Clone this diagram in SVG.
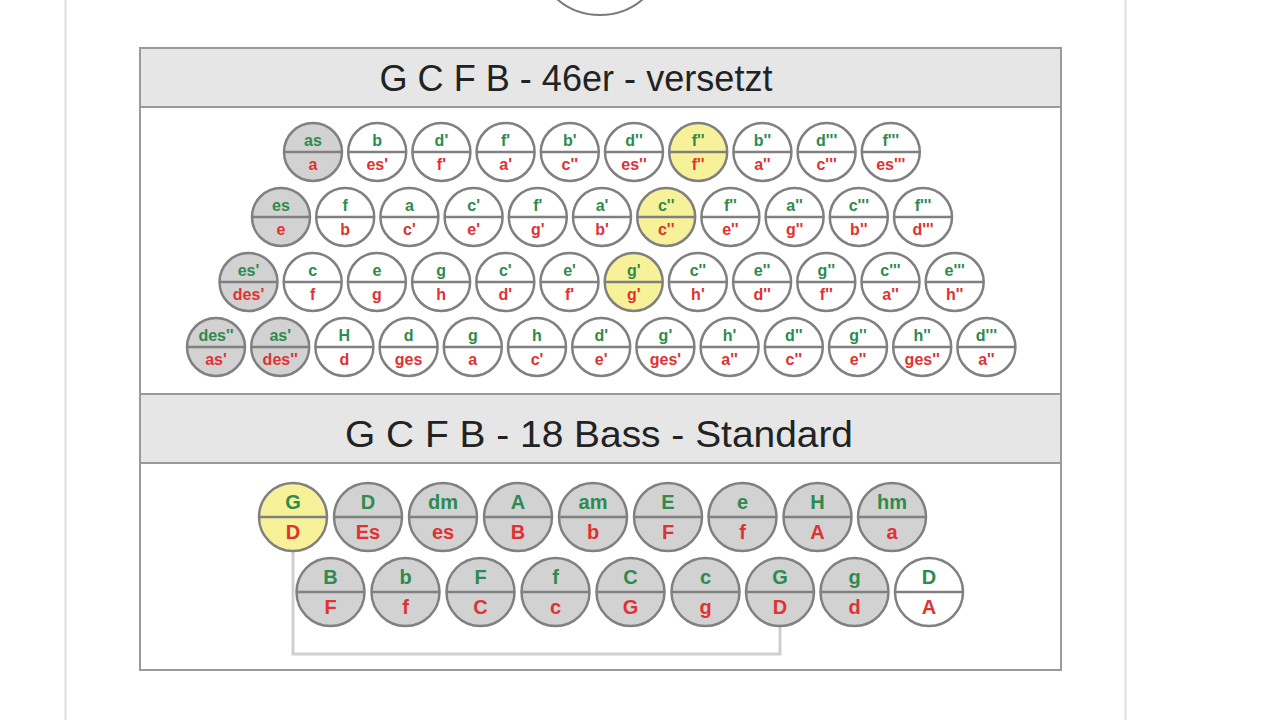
<svg xmlns="http://www.w3.org/2000/svg" width="1280" height="720" viewBox="0 0 1280 720">
<style>
.t circle{stroke:#808080;stroke-width:2.5}
.t line{stroke:#808080;stroke-width:2.5}
.w circle{fill:#fff}.g circle{fill:#d2d2d2}.y circle{fill:#f7f29a}
.t text{font-family:"Liberation Sans",Arial,sans-serif;font-weight:bold;text-anchor:middle}
.s text{font-size:16px}.b text{font-size:20px}
.t .u{fill:#2e8a4e}.t .d{fill:#e03232}
.hd{fill:#e6e6e6;stroke:#9a9a9a;stroke-width:2}
.ttl{font-family:"Liberation Sans",Arial,sans-serif;font-size:36px;fill:#222;text-anchor:middle}
</style>
<rect width="1280" height="720" fill="#fff"/>
<line x1="65.5" y1="0" x2="65.5" y2="720" stroke="#e0e0e0" stroke-width="2"/>
<line x1="1125.5" y1="0" x2="1125.5" y2="720" stroke="#e0e0e0" stroke-width="2"/>
<circle cx="600" cy="-51" r="66" fill="#fff" stroke="#7a7a7a" stroke-width="2"/>
<rect x="140" y="48" width="921" height="622" fill="#fff" stroke="#9a9a9a" stroke-width="2"/>
<g id="header1"><rect class="hd" x="140" y="48" width="921" height="59"/><text class="ttl" x="576" y="91" textLength="393" lengthAdjust="spacingAndGlyphs">G C F B - 46er - versetzt</text></g>
<g id="header2"><rect class="hd" x="140" y="394" width="921" height="69"/><text class="ttl" x="599" y="447" textLength="508" lengthAdjust="spacingAndGlyphs">G C F B - 18 Bass - Standard</text></g>
<g id="connectors"><polyline points="293,551 293,654 780,654 780,626" fill="none" stroke="#cfcfcf" stroke-width="3"/></g>
<g id="treble">
<g id="r1b1" class="t s g" transform="translate(313,152)"><circle r="29"/><line x1="-29" x2="29"/><text class="u" y="-6">as</text><text class="d" y="18">a</text></g>
<g id="r1b2" class="t s w" transform="translate(377.2,152)"><circle r="29"/><line x1="-29" x2="29"/><text class="u" y="-6">b</text><text class="d" y="18">es'</text></g>
<g id="r1b3" class="t s w" transform="translate(441.4,152)"><circle r="29"/><line x1="-29" x2="29"/><text class="u" y="-6">d'</text><text class="d" y="18">f'</text></g>
<g id="r1b4" class="t s w" transform="translate(505.6,152)"><circle r="29"/><line x1="-29" x2="29"/><text class="u" y="-6">f'</text><text class="d" y="18">a'</text></g>
<g id="r1b5" class="t s w" transform="translate(569.8,152)"><circle r="29"/><line x1="-29" x2="29"/><text class="u" y="-6">b'</text><text class="d" y="18">c''</text></g>
<g id="r1b6" class="t s w" transform="translate(634,152)"><circle r="29"/><line x1="-29" x2="29"/><text class="u" y="-6">d''</text><text class="d" y="18">es''</text></g>
<g id="r1b7" class="t s y" transform="translate(698.2,152)"><circle r="29"/><line x1="-29" x2="29"/><text class="u" y="-6">f''</text><text class="d" y="18">f''</text></g>
<g id="r1b8" class="t s w" transform="translate(762.4,152)"><circle r="29"/><line x1="-29" x2="29"/><text class="u" y="-6">b''</text><text class="d" y="18">a''</text></g>
<g id="r1b9" class="t s w" transform="translate(826.6,152)"><circle r="29"/><line x1="-29" x2="29"/><text class="u" y="-6">d'''</text><text class="d" y="18">c'''</text></g>
<g id="r1b10" class="t s w" transform="translate(890.8,152)"><circle r="29"/><line x1="-29" x2="29"/><text class="u" y="-6">f'''</text><text class="d" y="18">es'''</text></g>

<g id="r2b1" class="t s g" transform="translate(281,217)"><circle r="29"/><line x1="-29" x2="29"/><text class="u" y="-6">es</text><text class="d" y="18">e</text></g>
<g id="r2b2" class="t s w" transform="translate(345.2,217)"><circle r="29"/><line x1="-29" x2="29"/><text class="u" y="-6">f</text><text class="d" y="18">b</text></g>
<g id="r2b3" class="t s w" transform="translate(409.4,217)"><circle r="29"/><line x1="-29" x2="29"/><text class="u" y="-6">a</text><text class="d" y="18">c'</text></g>
<g id="r2b4" class="t s w" transform="translate(473.6,217)"><circle r="29"/><line x1="-29" x2="29"/><text class="u" y="-6">c'</text><text class="d" y="18">e'</text></g>
<g id="r2b5" class="t s w" transform="translate(537.8,217)"><circle r="29"/><line x1="-29" x2="29"/><text class="u" y="-6">f'</text><text class="d" y="18">g'</text></g>
<g id="r2b6" class="t s w" transform="translate(602,217)"><circle r="29"/><line x1="-29" x2="29"/><text class="u" y="-6">a'</text><text class="d" y="18">b'</text></g>
<g id="r2b7" class="t s y" transform="translate(666.2,217)"><circle r="29"/><line x1="-29" x2="29"/><text class="u" y="-6">c''</text><text class="d" y="18">c''</text></g>
<g id="r2b8" class="t s w" transform="translate(730.4,217)"><circle r="29"/><line x1="-29" x2="29"/><text class="u" y="-6">f''</text><text class="d" y="18">e''</text></g>
<g id="r2b9" class="t s w" transform="translate(794.6,217)"><circle r="29"/><line x1="-29" x2="29"/><text class="u" y="-6">a''</text><text class="d" y="18">g''</text></g>
<g id="r2b10" class="t s w" transform="translate(858.8,217)"><circle r="29"/><line x1="-29" x2="29"/><text class="u" y="-6">c'''</text><text class="d" y="18">b''</text></g>
<g id="r2b11" class="t s w" transform="translate(923,217)"><circle r="29"/><line x1="-29" x2="29"/><text class="u" y="-6">f'''</text><text class="d" y="18">d'''</text></g>

<g id="r3b1" class="t s g" transform="translate(248.5,282)"><circle r="29"/><line x1="-29" x2="29"/><text class="u" y="-6">es'</text><text class="d" y="18">des'</text></g>
<g id="r3b2" class="t s w" transform="translate(312.7,282)"><circle r="29"/><line x1="-29" x2="29"/><text class="u" y="-6">c</text><text class="d" y="18">f</text></g>
<g id="r3b3" class="t s w" transform="translate(376.9,282)"><circle r="29"/><line x1="-29" x2="29"/><text class="u" y="-6">e</text><text class="d" y="18">g</text></g>
<g id="r3b4" class="t s w" transform="translate(441.1,282)"><circle r="29"/><line x1="-29" x2="29"/><text class="u" y="-6">g</text><text class="d" y="18">h</text></g>
<g id="r3b5" class="t s w" transform="translate(505.3,282)"><circle r="29"/><line x1="-29" x2="29"/><text class="u" y="-6">c'</text><text class="d" y="18">d'</text></g>
<g id="r3b6" class="t s w" transform="translate(569.5,282)"><circle r="29"/><line x1="-29" x2="29"/><text class="u" y="-6">e'</text><text class="d" y="18">f'</text></g>
<g id="r3b7" class="t s y" transform="translate(633.7,282)"><circle r="29"/><line x1="-29" x2="29"/><text class="u" y="-6">g'</text><text class="d" y="18">g'</text></g>
<g id="r3b8" class="t s w" transform="translate(697.9,282)"><circle r="29"/><line x1="-29" x2="29"/><text class="u" y="-6">c''</text><text class="d" y="18">h'</text></g>
<g id="r3b9" class="t s w" transform="translate(762.1,282)"><circle r="29"/><line x1="-29" x2="29"/><text class="u" y="-6">e''</text><text class="d" y="18">d''</text></g>
<g id="r3b10" class="t s w" transform="translate(826.3,282)"><circle r="29"/><line x1="-29" x2="29"/><text class="u" y="-6">g''</text><text class="d" y="18">f''</text></g>
<g id="r3b11" class="t s w" transform="translate(890.5,282)"><circle r="29"/><line x1="-29" x2="29"/><text class="u" y="-6">c'''</text><text class="d" y="18">a''</text></g>
<g id="r3b12" class="t s w" transform="translate(954.7,282)"><circle r="29"/><line x1="-29" x2="29"/><text class="u" y="-6">e'''</text><text class="d" y="18">h''</text></g>

<g id="r4b1" class="t s g" transform="translate(216,347)"><circle r="29"/><line x1="-29" x2="29"/><text class="u" y="-6">des''</text><text class="d" y="18">as'</text></g>
<g id="r4b2" class="t s g" transform="translate(280.2,347)"><circle r="29"/><line x1="-29" x2="29"/><text class="u" y="-6">as'</text><text class="d" y="18">des''</text></g>
<g id="r4b3" class="t s w" transform="translate(344.4,347)"><circle r="29"/><line x1="-29" x2="29"/><text class="u" y="-6">H</text><text class="d" y="18">d</text></g>
<g id="r4b4" class="t s w" transform="translate(408.6,347)"><circle r="29"/><line x1="-29" x2="29"/><text class="u" y="-6">d</text><text class="d" y="18">ges</text></g>
<g id="r4b5" class="t s w" transform="translate(472.8,347)"><circle r="29"/><line x1="-29" x2="29"/><text class="u" y="-6">g</text><text class="d" y="18">a</text></g>
<g id="r4b6" class="t s w" transform="translate(537,347)"><circle r="29"/><line x1="-29" x2="29"/><text class="u" y="-6">h</text><text class="d" y="18">c'</text></g>
<g id="r4b7" class="t s w" transform="translate(601.2,347)"><circle r="29"/><line x1="-29" x2="29"/><text class="u" y="-6">d'</text><text class="d" y="18">e'</text></g>
<g id="r4b8" class="t s w" transform="translate(665.4,347)"><circle r="29"/><line x1="-29" x2="29"/><text class="u" y="-6">g'</text><text class="d" y="18">ges'</text></g>
<g id="r4b9" class="t s w" transform="translate(729.6,347)"><circle r="29"/><line x1="-29" x2="29"/><text class="u" y="-6">h'</text><text class="d" y="18">a''</text></g>
<g id="r4b10" class="t s w" transform="translate(793.8,347)"><circle r="29"/><line x1="-29" x2="29"/><text class="u" y="-6">d''</text><text class="d" y="18">c''</text></g>
<g id="r4b11" class="t s w" transform="translate(858,347)"><circle r="29"/><line x1="-29" x2="29"/><text class="u" y="-6">g''</text><text class="d" y="18">e''</text></g>
<g id="r4b12" class="t s w" transform="translate(922.2,347)"><circle r="29"/><line x1="-29" x2="29"/><text class="u" y="-6">h''</text><text class="d" y="18">ges''</text></g>
<g id="r4b13" class="t s w" transform="translate(986.4,347)"><circle r="29"/><line x1="-29" x2="29"/><text class="u" y="-6">d'''</text><text class="d" y="18">a''</text></g>
</g>
<g id="bass">
<g id="b1_1" class="t b y" transform="translate(293,517)"><circle r="34"/><line x1="-34" x2="34"/><text class="u" y="-8">G</text><text class="d" y="22">D</text></g>
<g id="b1_2" class="t b g" transform="translate(368,517)"><circle r="34"/><line x1="-34" x2="34"/><text class="u" y="-8">D</text><text class="d" y="22">Es</text></g>
<g id="b1_3" class="t b g" transform="translate(443,517)"><circle r="34"/><line x1="-34" x2="34"/><text class="u" y="-8">dm</text><text class="d" y="22">es</text></g>
<g id="b1_4" class="t b g" transform="translate(518,517)"><circle r="34"/><line x1="-34" x2="34"/><text class="u" y="-8">A</text><text class="d" y="22">B</text></g>
<g id="b1_5" class="t b g" transform="translate(593,517)"><circle r="34"/><line x1="-34" x2="34"/><text class="u" y="-8">am</text><text class="d" y="22">b</text></g>
<g id="b1_6" class="t b g" transform="translate(668,517)"><circle r="34"/><line x1="-34" x2="34"/><text class="u" y="-8">E</text><text class="d" y="22">F</text></g>
<g id="b1_7" class="t b g" transform="translate(742.5,517)"><circle r="34"/><line x1="-34" x2="34"/><text class="u" y="-8">e</text><text class="d" y="22">f</text></g>
<g id="b1_8" class="t b g" transform="translate(817.5,517)"><circle r="34"/><line x1="-34" x2="34"/><text class="u" y="-8">H</text><text class="d" y="22">A</text></g>
<g id="b1_9" class="t b g" transform="translate(892,517)"><circle r="34"/><line x1="-34" x2="34"/><text class="u" y="-8">hm</text><text class="d" y="22">a</text></g>
<g id="b2_1" class="t b g" transform="translate(330.5,592)"><circle r="34"/><line x1="-34" x2="34"/><text class="u" y="-8">B</text><text class="d" y="22">F</text></g>
<g id="b2_2" class="t b g" transform="translate(405.5,592)"><circle r="34"/><line x1="-34" x2="34"/><text class="u" y="-8">b</text><text class="d" y="22">f</text></g>
<g id="b2_3" class="t b g" transform="translate(480.5,592)"><circle r="34"/><line x1="-34" x2="34"/><text class="u" y="-8">F</text><text class="d" y="22">C</text></g>
<g id="b2_4" class="t b g" transform="translate(555.5,592)"><circle r="34"/><line x1="-34" x2="34"/><text class="u" y="-8">f</text><text class="d" y="22">c</text></g>
<g id="b2_5" class="t b g" transform="translate(630.5,592)"><circle r="34"/><line x1="-34" x2="34"/><text class="u" y="-8">C</text><text class="d" y="22">G</text></g>
<g id="b2_6" class="t b g" transform="translate(705.5,592)"><circle r="34"/><line x1="-34" x2="34"/><text class="u" y="-8">c</text><text class="d" y="22">g</text></g>
<g id="b2_7" class="t b g" transform="translate(780,592)"><circle r="34"/><line x1="-34" x2="34"/><text class="u" y="-8">G</text><text class="d" y="22">D</text></g>
<g id="b2_8" class="t b g" transform="translate(854.5,592)"><circle r="34"/><line x1="-34" x2="34"/><text class="u" y="-8">g</text><text class="d" y="22">d</text></g>
<g id="b2_9" class="t b w" transform="translate(929,592)"><circle r="34"/><line x1="-34" x2="34"/><text class="u" y="-8">D</text><text class="d" y="22">A</text></g>
</g>
</svg>
